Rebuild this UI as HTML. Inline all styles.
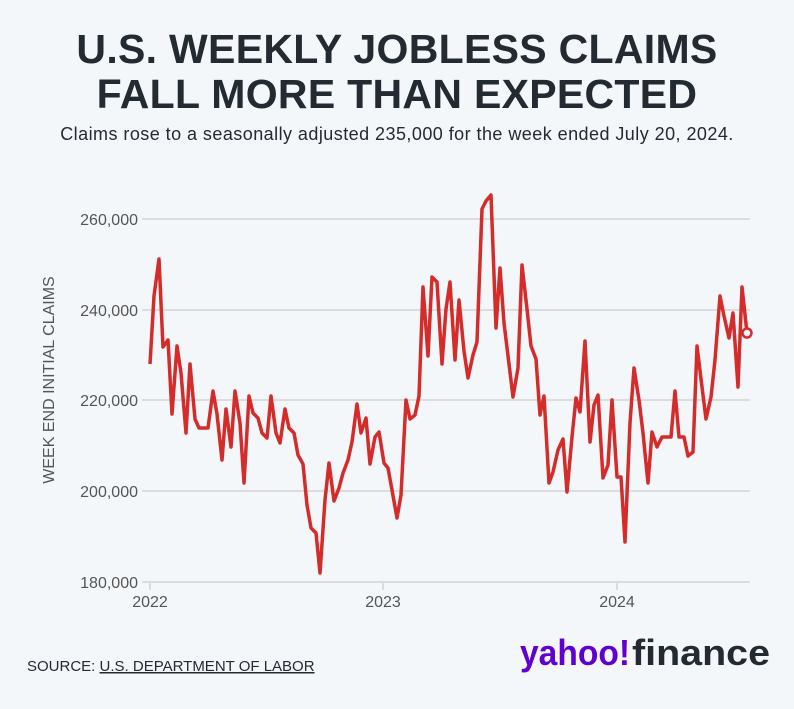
<!DOCTYPE html>
<html><head><meta charset="utf-8"><style>
body{margin:0;width:794px;height:709px;background:#f4f7fa;font-family:"Liberation Sans",sans-serif;overflow:hidden;position:relative}
.t{position:absolute;left:0;width:794px;text-align:center;font-weight:bold;color:#232a31;font-size:41px;line-height:46px;letter-spacing:0.3px}
.s{position:absolute;left:0;width:794px;text-align:center;top:124px;font-size:18px;letter-spacing:0.45px;color:#232a31}
svg{position:absolute;left:0;top:0}
</style></head><body>
<div class="t" style="top:26px">U.S. WEEKLY JOBLESS CLAIMS</div>
<div class="t" style="top:71px">FALL MORE THAN EXPECTED</div>
<div class="s">Claims rose to a seasonally adjusted 235,000 for the week ended July 20, 2024.</div>
<svg width="794" height="709">
<g stroke="#dcdcdc" stroke-width="2">
<line x1="142" x2="750" y1="219" y2="219"/><line x1="142" x2="750" y1="310" y2="310"/><line x1="142" x2="750" y1="400" y2="400"/><line x1="142" x2="750" y1="491" y2="491"/><line x1="142" x2="750" y1="582" y2="582"/>
<line x1="150" x2="150" y1="582" y2="590"/><line x1="383" x2="383" y1="582" y2="590"/><line x1="617" x2="617" y1="582" y2="590"/>
</g>
<g font-size="16" fill="#555" text-anchor="end">
<text x="138" y="225">260,000</text><text x="138" y="316">240,000</text><text x="138" y="406">220,000</text><text x="138" y="497">200,000</text><text x="138" y="588">180,000</text>
</g>
<g font-size="16" fill="#555" text-anchor="middle">
<text x="150" y="607">2022</text><text x="383" y="607">2023</text><text x="617" y="607">2024</text>
</g>
<text transform="translate(54,380) rotate(-90)" font-size="16" fill="#555" text-anchor="middle">WEEK END INITIAL CLAIMS</text>
<polyline fill="none" stroke="#d42b2b" stroke-width="3.5" stroke-linejoin="round" points="150,364 154,296 159,259 163,347 168,340 172,414 177,346 181,373 186,433 190,364 195,419 199,428 208,428 213,391 217,414 222,460 226,409 231,447 235,391 240,423 244,483 249,396 253,413 258,418 262,433 267,438 271,396 276,433 280,443 285,409 289,428 294,433 298,455 303,464 307,505 311,528 316,533 320,573 325,500 329,463 334,501 339,488 343,473 348,460 352,442 357,404 361,433 366,418 370,464 375,437 379,432 384,463 388,468 392,490 397,518 401,495 406,400 410,419 415,415 419,396 423,287 428,356 432,277 437,282 442,364 446,309 450,282 455,360 459,300 464,351 468,378 473,355 477,342 482,209 486,201 491,195 496,328 500,268 504,323 509,364 513,397 518,368 522,265 527,309 531,346 536,359 540,415 544,396 549,483 553,472 558,450 563,439 567,492 572,437 576,398 580,412 585,341 590,442 594,405 598,395 603,478 608,465 612,400 617,477 621,477 625,542 630,423 634,368 639,400 643,433 648,483 652,432 657,447 662,437 671,437 675,391 679,437 684,437 688,456 693,452 697,346 702,387 706,419 711,397 715,360 720,296 724,316 729,338 733,313 738,387 742,287 747,333"/>
<circle cx="747" cy="333" r="4.5" fill="#f4f7fa" stroke="#d42b2b" stroke-width="2.5"/>
<text x="27" y="671" font-size="15" fill="#232a31">SOURCE: <tspan text-decoration="underline">U.S. DEPARTMENT OF LABOR</tspan></text>
<text x="520" y="665" font-size="36" font-weight="bold" fill="#6001d2" textLength="110" lengthAdjust="spacingAndGlyphs">yahoo!</text>
<text x="632" y="665" font-size="36" font-weight="bold" fill="#232a31" textLength="138" lengthAdjust="spacingAndGlyphs">finance</text>
</svg>
</body></html>
